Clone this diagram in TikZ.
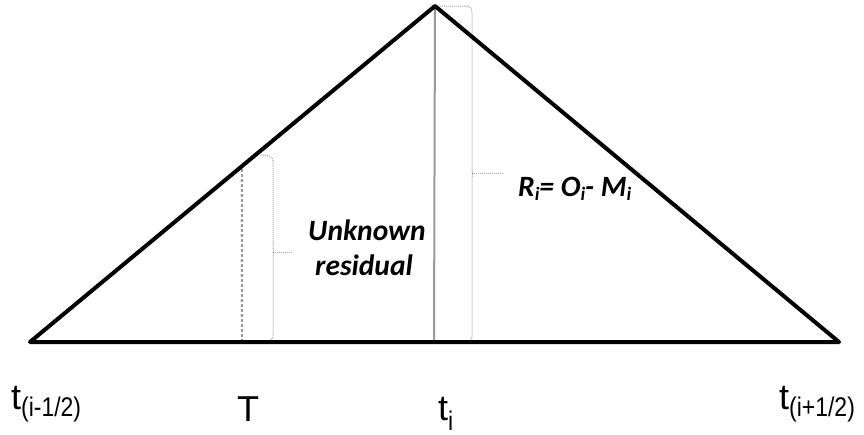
\documentclass[tikz,border=0pt]{standalone}
\usepackage{fontspec}
\setmainfont{Liberation Sans}
\newfontfamily\calibri{Carlito}
\newcommand{\bajo}[2][-7pt]{\raisebox{#1}{\scalebox{0.85}[1]{\fontsize{27}{27}\selectfont #2}}}
\newcommand{\rbajo}[1]{\raisebox{-4pt}{\fontsize{19}{19}\selectfont #1}}
\begin{document}
\begin{tikzpicture}[
  x=1pt, y=-1pt,
  lado/.style={line width=4pt, draw=black, line join=round, line cap=round},
  guia/.style={draw=gray!80, line width=1.2pt, densely dashed},
  eje/.style={draw=gray!80, line width=2pt},
  llave/.style={draw=gray!70, line width=1pt, densely dotted},
  etq/.style={inner sep=0pt, anchor=base west, font=\fontsize{36}{36}\selectfont},
  res/.style={inner sep=0pt, anchor=base, font=\calibri\bfseries\itshape\fontsize{29.5}{29.5}\selectfont}
]
  \useasboundingbox (0,0) rectangle (864,434);

  % Vértices
  \coordinate (izq) at (30,342);
  \coordinate (cima) at (435,6);
  \coordinate (der) at (839,342);
  \coordinate (ti) at (434,342);
  \coordinate (T) at (242,342);
  \coordinate (Tsup) at (242,166);

  % Llaves
  \coordinate (ll1) at (273,252);
  \coordinate (ll2) at (472,173);
  \draw[llave] (261,155) .. controls (268,155) and (273,156) .. (273,161) -- (273,248)
    .. controls (273,251) and (275,252) .. (ll1) .. controls (275,252) and (273,253) .. (273,256)
    -- (273,336) .. controls (273,340) and (270,341) .. (265,341);
  \draw[llave] (ll1) -- ++(19,0);
  \draw[llave] (440,6) -- (466,6) .. controls (470,6) and (472,8) .. (472,13) -- (472,169)
    .. controls (472,172) and (474,173) .. (ll2) .. controls (474,173) and (472,174) .. (472,177)
    -- (472,336) .. controls (472,340) and (470,342) .. (466,342) -- (440,342);
  \draw[llave] (ll2) -- ++(31,0);

  % Verticales
  \draw[guia] (T) -- (Tsup);
  \draw[eje] (ti) -- (cima);

  % Triángulo
  \draw[lado] (izq) -- (cima) -- (der) -- cycle;

  % Etiquetas
  \node[etq] (tizq) at (11,409) {t\bajo{(i-1/2)}};
  \node[etq] (Tlab) at (237,421) {T};
  \node[etq] (tilab) at (438,420) {t\bajo[-10pt]{i}};
  \node[etq] (tder) at (779,409) {t\bajo{(i+1/2)}};

  \node[res] (unk) at (367,240) {Unknown};
  \node[res] (resid) at (364,275) {residual};
  \node[res, anchor=base west] (Ri) at (518,196) {R\rbajo{i}= O\rbajo{i}- M\rbajo{i}};
\end{tikzpicture}
\end{document}
